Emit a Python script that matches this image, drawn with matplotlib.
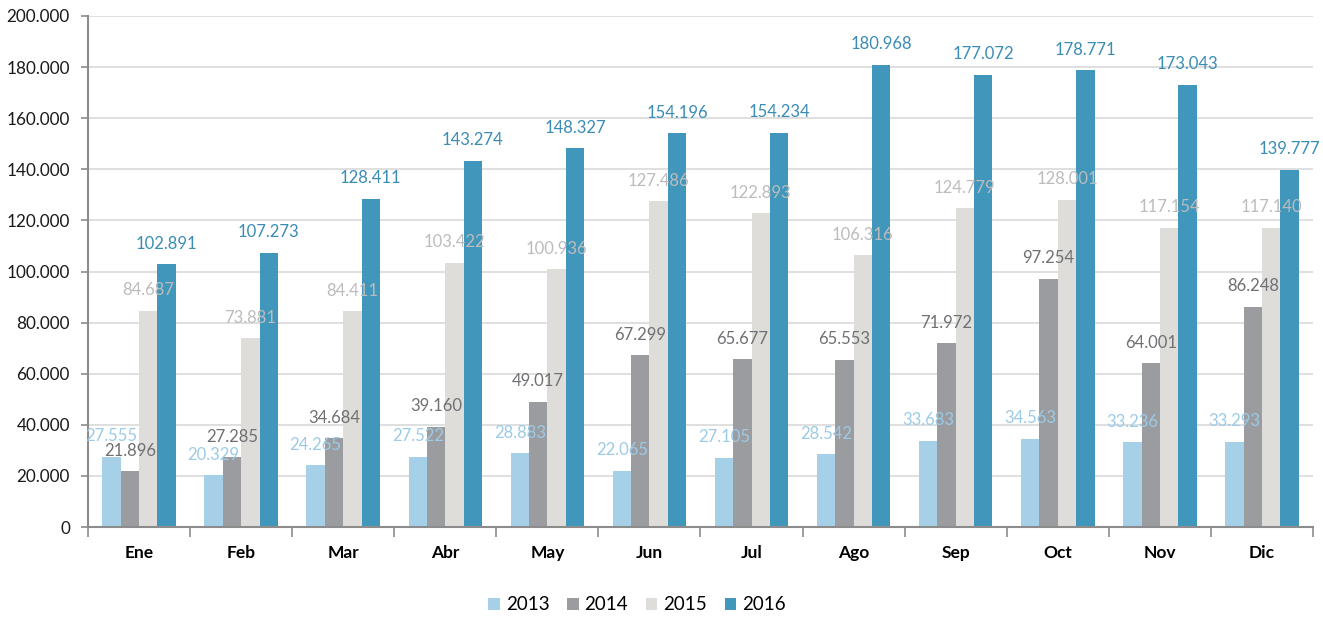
import numpy as np
from matplotlib import pyplot as plt
from matplotlib.ticker import FuncFormatter, MultipleLocator

plt.rcParams['font.family'] = ['Lato', 'DejaVu Sans']

meses = ['Ene', 'Feb', 'Mar', 'Abr', 'May', 'Jun', 'Jul', 'Ago', 'Sep', 'Oct', 'Nov', 'Dic']
anios = ['2013', '2014', '2015', '2016']

v2013 = [27555, 20329, 24265, 27522, 28883, 22065, 27105, 28542, 33683, 34563, 33236, 33293]
v2014 = [21896, 27285, 34684, 39160, 49017, 67299, 65677, 65553, 71972, 97254, 64001, 86248]
v2015 = [84687, 73881, 84411, 103422, 100936, 127486, 122893, 106316, 124779, 128001, 117154, 117140]
v2016 = [102891, 107273, 128411, 143274, 148327, 154196, 154234, 180968, 177072, 178771, 173043, 139777]

series = [v2013, v2014, v2015, v2016]
col_barra = ['#a6cfe8', '#9b9ca0', '#deddda', '#4197bb']
col_texto = ['#9ccbe7', '#6f7073', '#bcbcbc', '#3a8cb4']


def miles(v):
    return f"{int(v):,}".replace(",", ".")


fig = plt.figure(figsize=(13.23, 6.17), dpi=100)
ax = fig.add_axes([88/1323, 1-527/617, (1313-88)/1323, (527-16)/617])

x = np.arange(len(meses))
ancho = 0.18
for i, (vals, cb, ct, nombre) in enumerate(zip(series, col_barra, col_texto, anios)):
    pos = x + (i - 1.5) * ancho
    ax.bar(pos, vals, width=ancho, color=cb, label=nombre, zorder=2)
    for px, v in zip(pos, vals):
        ax.annotate(miles(v), (px, v), xytext=(0, 9), textcoords='offset points',
                    ha='center', va='bottom', fontsize=12, color=ct, zorder=5)

ax.set_xlim(-0.5, len(meses) - 0.5)
ax.set_ylim(0, 200000)
ax.yaxis.set_major_locator(MultipleLocator(20000))
ax.yaxis.set_major_formatter(FuncFormatter(lambda v, p: miles(v)))
ax.grid(axis='y', color='#d9d9d9', linewidth=1.2, zorder=0)
ax.set_axisbelow(True)

ax.set_xticks(x)
ax.set_xticklabels(meses, fontweight='bold', fontsize=12.5)
ax.set_xticks(np.arange(-0.5, len(meses)), minor=True)
ax.tick_params(axis='x', which='major', length=0, pad=13)
ax.tick_params(axis='x', which='minor', length=7, width=1.2, color='#8c8c8c')
ax.tick_params(axis='y', length=5, width=1.2, color='#8c8c8c', labelsize=12.3,
               labelcolor='#1a1a1a', pad=8)

for s in ['top', 'right']:
    ax.spines[s].set_visible(False)
for s in ['left', 'bottom']:
    ax.spines[s].set_color('#8c8c8c')
    ax.spines[s].set_linewidth(1.5)

fig.legend(loc='center', bbox_to_anchor=(637/1323, 1-605/617), ncol=4, frameon=False,
           fontsize=13.5, handlelength=0.62, handleheight=0.62, handletextpad=0.3,
           columnspacing=0.95)

fig.savefig('out.png', dpi=100)
